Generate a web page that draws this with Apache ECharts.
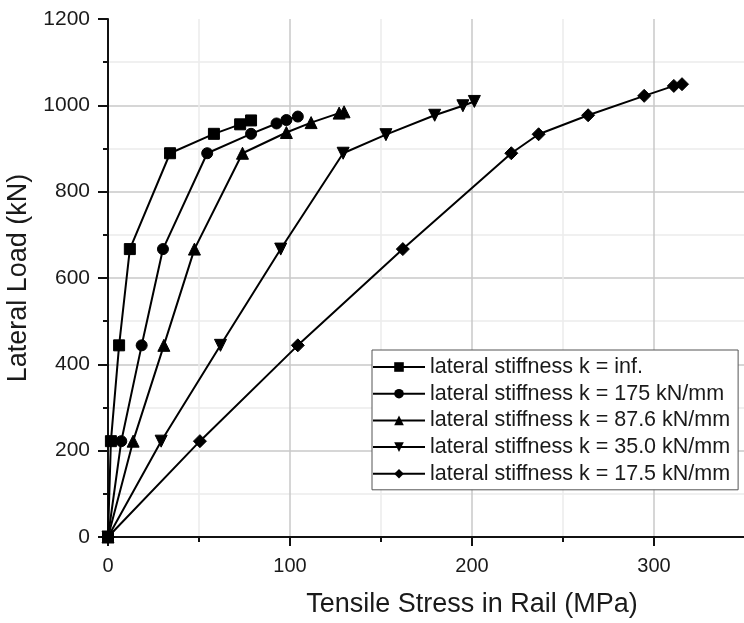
<!DOCTYPE html>
<html>
<head>
<meta charset="utf-8">
<script src="https://cdn.jsdelivr.net/npm/echarts@6/dist/echarts.min.js"></script>
<style>
  html, body { margin: 0; padding: 0; background: #fff; }
  #chart { width: 744px; height: 623px; }
</style>
</head>
<body>
<div id="chart"></div>
<script>
// Tensile stress in the rail (MPa) against applied lateral load (kN)
const seriesNames = [
  'lateral stiffness k = inf.',
  'lateral stiffness k = 175 kN/mm',
  'lateral stiffness k = 87.6 kN/mm',
  'lateral stiffness k = 35.0 kN/mm',
  'lateral stiffness k = 17.5 kN/mm'
];
const symbols = ['rect', 'circle', 'triangle', 'path://M0,0 L10,0 L5,10 Z', 'diamond'];

const stressInf  = [0, 1.6, 6.1, 12.0, 34.1, 58.2, 72.6, 78.6];
const loadInf    = [0, 222, 444, 667, 889, 934, 956, 965];

const stress175  = [0, 7.3, 18.5, 30.2, 54.5, 78.6, 92.6, 98.0, 104.3];
const load175    = [0, 222, 444, 667, 889, 934, 958, 966, 974];

const stress876  = [0, 13.8, 30.7, 47.5, 73.9, 98.0, 111.6, 127.0, 129.7];
const load876    = [0, 222, 444, 667, 889, 937, 960, 982, 985];

const stress350  = [0, 29.2, 61.8, 94.9, 129.2, 152.7, 179.5, 195.0, 201.3];
const load350    = [0, 222, 444, 667, 889, 932, 977, 999, 1009];

const stress175b = [0, 50.5, 104.3, 162.0, 221.6, 236.6, 263.8, 294.6, 310.9, 315.4];
const load175b   = [0, 222, 444, 667, 889, 933, 977, 1022, 1045, 1049];

const xTicks = [0, 100, 200, 300];
const yTicks = [0, 200, 400, 600, 800, 1000, 1200];

const stressSets = [stressInf, stress175, stress876, stress350, stress175b];
const loadSets   = [loadInf, load175, load876, load350, load175b];

function pairs(xs, ys) { return xs.map((x, i) => [x, ys[i]]); }

const chart = echarts.init(document.getElementById('chart'), null, { renderer: 'canvas' });

const font = 'Liberation Sans, Arial, sans-serif';

chart.setOption({
  animation: false,
  backgroundColor: '#ffffff',
  grid: {
    left: 108, top: 19, bottom: 86, right: -92,
    containLabel: false,
    outerBoundsMode: 'none'
  },
  xAxis: {
    type: 'value',
    min: 0, max: 400, interval: 100,
    name: 'Tensile Stress in Rail (MPa)',
    nameLocation: 'middle',
    nameGap: 54,
    nameTextStyle: { fontFamily: font, fontSize: 27, color: '#1a1a1a', align: 'center' },
    axisLine: { show: true, lineStyle: { color: '#111', width: 2 } },
    axisTick: { show: true, inside: false, length: 9, lineStyle: { color: '#111', width: 2 } },
    minorTick: { show: true, splitNumber: 2, length: 5, lineStyle: { color: '#111', width: 2 } },
    axisLabel: {
      fontFamily: font, fontSize: 20, color: '#1a1a1a', margin: 19,
      formatter: v => xTicks.includes(v) ? String(v) : ''
    },
    splitLine: { show: true, lineStyle: { color: '#c8c8c8', width: 1.5 } },
    minorSplitLine: { show: true, lineStyle: { color: '#ececec', width: 1.5 } }
  },
  yAxis: {
    type: 'value',
    min: 0, max: 1200, interval: 200,
    name: 'Lateral Load (kN)',
    nameLocation: 'middle',
    nameGap: 67,
    nameTextStyle: { fontFamily: font, fontSize: 27, color: '#1a1a1a' },
    axisLine: { show: true, lineStyle: { color: '#111', width: 2 } },
    axisTick: { show: true, inside: false, length: 10, lineStyle: { color: '#111', width: 2 } },
    minorTick: { show: true, splitNumber: 2, length: 5, lineStyle: { color: '#111', width: 2 } },
    axisLabel: {
      fontFamily: font, fontSize: 21, color: '#1a1a1a', margin: 18,
      formatter: v => yTicks.includes(v) ? String(v) : ''
    },
    splitLine: { show: true, showMaxLine: false, lineStyle: { color: '#c8c8c8', width: 1.5 } },
    minorSplitLine: { show: true, lineStyle: { color: '#ececec', width: 1.5 } }
  },
  legend: {
    orient: 'vertical',
    left: 372, top: 350,
    padding: [6, 8, 5, 0],
    itemWidth: 52, itemHeight: 12, itemGap: 4.7,
    borderColor: '#555', borderWidth: 1, borderRadius: 0,
    backgroundColor: '#fff',
    textStyle: { fontFamily: font, fontSize: 21.5, color: '#1a1a1a', lineHeight: 22 },
    data: seriesNames
  },
  series: seriesNames.map((name, i) => ({
    name,
    type: 'line',
    data: pairs(stressSets[i], loadSets[i]),
    symbol: symbols[i],
    symbolSize: i === 2 || i === 3 ? 12 : (i === 4 ? 13 : 11),
    showAllSymbol: true,
    lineStyle: { color: '#000', width: 2 },
    itemStyle: { color: '#000', borderColor: '#000' },
    z: 3
  }))
});
</script>
</body>
</html>
